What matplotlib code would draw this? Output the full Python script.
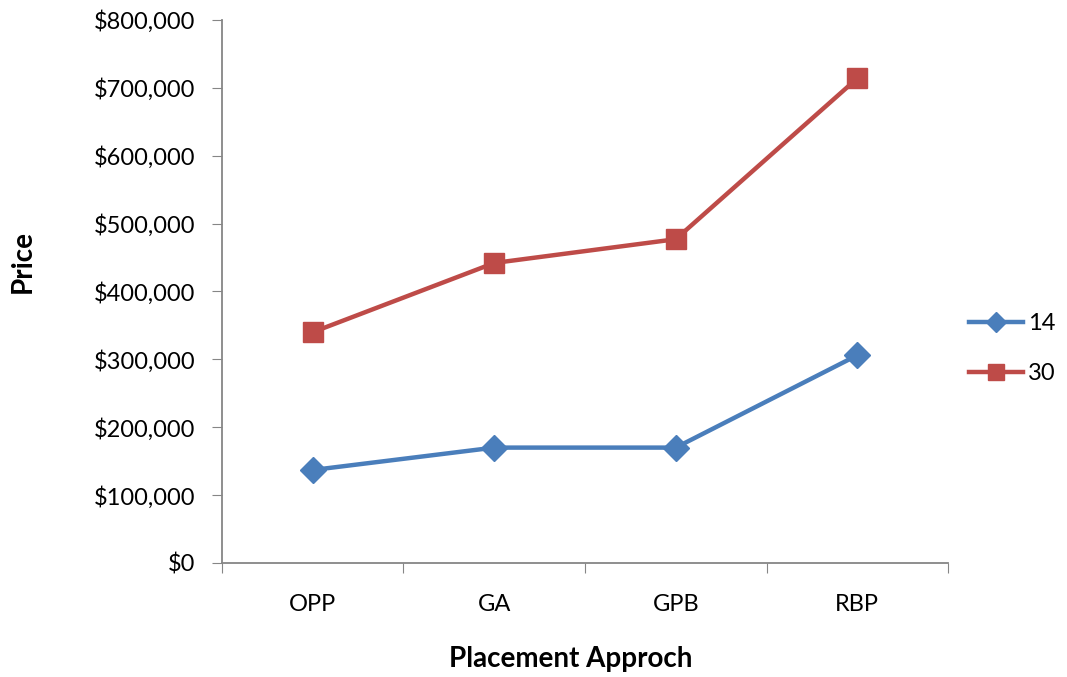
import matplotlib.pyplot as plt
from matplotlib.ticker import FuncFormatter, FixedLocator
import numpy as np

# %% Data

approaches = ['OPP', 'GA', 'GPB', 'RBP']
price_14 = [137000, 170000, 170000, 306000]
price_30 = [340000, 442000, 477000, 714000]

blue = '#4A7EBB'
red = '#BE4B48'
axis_grey = '#868686'

plt.rcParams['font.family'] = ['Lato', 'DejaVu Sans']

# %% Figure

fig = plt.figure(figsize=(10.67, 6.77), dpi=100)
ax = fig.add_axes([0.208, 0.1684, 0.6805, 0.8021])

x = np.arange(len(approaches))
ax.plot(x, price_14, color=blue, lw=3.2, marker='D', ms=13.5, label='14')
ax.plot(x, price_30, color=red, lw=3.2, marker='s', ms=15, label='30')

ax.set_xlim(-0.5, len(approaches) - 0.5)
ax.set_ylim(0, 800000)

# category ticks sit between the categories, labels at the centres
ax.xaxis.set_major_locator(FixedLocator(np.arange(-0.5, len(approaches), 1.0)))
ax.xaxis.set_major_formatter(FuncFormatter(lambda v, p: ''))
ax.xaxis.set_minor_locator(FixedLocator(x))
ax.set_xticklabels(approaches, minor=True)
ax.tick_params(axis='x', which='minor', length=0, pad=22, labelsize=17)
ax.tick_params(axis='x', which='major', length=7, color=axis_grey, direction='out')

ax.yaxis.set_major_locator(FixedLocator(np.arange(0, 800001, 100000)))
ax.yaxis.set_major_formatter(FuncFormatter(lambda v, p: f'${v:,.0f}'))
ax.tick_params(axis='y', length=7, color=axis_grey, direction='out', labelsize=17, pad=12)

for side in ['top', 'right']:
    ax.spines[side].set_visible(False)
for side in ['left', 'bottom']:
    ax.spines[side].set_color(axis_grey)
    ax.spines[side].set_linewidth(1.3)

fig.text(0.021, 0.613, 'Price', rotation=90, fontsize=20, fontweight='bold',
         ha='center', va='center')
fig.text(0.535, 0.027, 'Placement Approch', fontsize=20, fontweight='bold',
         ha='center', va='center')

fig.legend(loc='center left', bbox_to_anchor=(0.899, 0.485), frameon=False,
           fontsize=17, handlelength=2.3, labelspacing=1.2, handletextpad=0.2,
           borderaxespad=0, markerscale=0.75)

fig.savefig('out.png', dpi=100)
